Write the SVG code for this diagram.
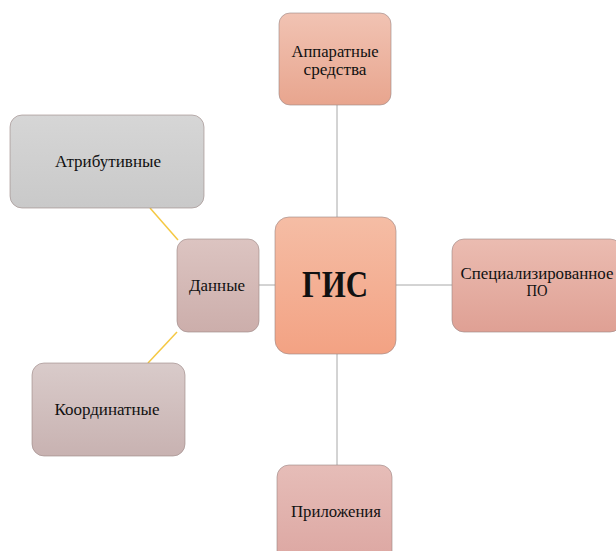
<svg xmlns="http://www.w3.org/2000/svg" width="616" height="551" viewBox="0 0 616 551">
<defs>
<linearGradient id="gApp" x1="0" y1="0" x2="0" y2="1"><stop offset="0" stop-color="#f1c3b3"/><stop offset="1" stop-color="#e8a58e"/></linearGradient>
<linearGradient id="gGis" x1="0" y1="0" x2="0" y2="1"><stop offset="0" stop-color="#f5bda5"/><stop offset="1" stop-color="#f3a283"/></linearGradient>
<linearGradient id="gSpec" x1="0" y1="0" x2="0" y2="1"><stop offset="0" stop-color="#ebbcb1"/><stop offset="1" stop-color="#dfa094"/></linearGradient>
<linearGradient id="gAttr" x1="0" y1="0" x2="0" y2="1"><stop offset="0" stop-color="#d6d6d6"/><stop offset="1" stop-color="#c9c9c9"/></linearGradient>
<linearGradient id="gData" x1="0" y1="0" x2="0" y2="1"><stop offset="0" stop-color="#dcc4c1"/><stop offset="1" stop-color="#ccaeab"/></linearGradient>
<linearGradient id="gCoord" x1="0" y1="0" x2="0" y2="1"><stop offset="0" stop-color="#d9cbca"/><stop offset="1" stop-color="#c8b2b1"/></linearGradient>
<linearGradient id="gPril" x1="0" y1="0" x2="0" y2="1"><stop offset="0" stop-color="#e6bdb8"/><stop offset="1" stop-color="#dca6a1"/></linearGradient>
</defs>
<style>
.box{stroke:#9a8584;stroke-opacity:0.6;stroke-width:1}
.t{font-family:"Liberation Serif","DejaVu Serif","Times New Roman",serif;font-size:16px;fill:#111;text-anchor:middle}
.big{font-family:"Liberation Serif","DejaVu Serif","Times New Roman",serif;font-size:38px;font-weight:bold;fill:#111;text-anchor:middle}
.gray{stroke:#a8a8a8;stroke-width:1;fill:none}
.yel{stroke:#f5c842;stroke-width:1.5;fill:none}
</style>
<g id="connectors">
<line class="gray" x1="337" y1="105" x2="337" y2="217"/>
<line class="gray" x1="337" y1="354" x2="337" y2="465"/>
<line class="gray" x1="259" y1="285" x2="275" y2="285"/>
<line class="gray" x1="396" y1="285" x2="452" y2="285"/>
<line class="yel" x1="150" y1="208" x2="178" y2="240"/>
<line class="yel" x1="177" y1="332" x2="148" y2="363"/>
</g>
<g id="node-apparat">
<rect class="box" x="279" y="13" width="112" height="92" rx="11" fill="url(#gApp)"/>
<text class="t" x="335" y="57" textLength="87" lengthAdjust="spacingAndGlyphs">Аппаратные</text>
<text class="t" x="335" y="75" textLength="63" lengthAdjust="spacingAndGlyphs">средства</text>
</g>
<g id="node-attr">
<rect class="box" x="10" y="115" width="194" height="93" rx="12" fill="url(#gAttr)"/>
<text class="t" x="108" y="167" textLength="106" lengthAdjust="spacingAndGlyphs">Атрибутивные</text>
</g>
<g id="node-data">
<rect class="box" x="177" y="239" width="82" height="93" rx="11" fill="url(#gData)"/>
<text class="t" x="217" y="291" textLength="56" lengthAdjust="spacingAndGlyphs">Данные</text>
</g>
<g id="node-gis">
<rect class="box" x="275" y="217" width="121" height="137" rx="14" fill="url(#gGis)"/>
<text class="big" x="335" y="297" textLength="66" lengthAdjust="spacingAndGlyphs">ГИС</text>
</g>
<g id="node-spec">
<rect class="box" x="452" y="239" width="170" height="93" rx="12" fill="url(#gSpec)"/>
<text class="t" x="537" y="279" textLength="153" lengthAdjust="spacingAndGlyphs">Специализированное</text>
<text class="t" x="537" y="296" textLength="21" lengthAdjust="spacingAndGlyphs">ПО</text>
</g>
<g id="node-coord">
<rect class="box" x="32" y="363" width="153" height="93" rx="12" fill="url(#gCoord)"/>
<text class="t" x="107" y="415" textLength="105" lengthAdjust="spacingAndGlyphs">Координатные</text>
</g>
<g id="node-pril">
<rect class="box" x="277" y="465" width="115" height="100" rx="12" fill="url(#gPril)"/>
<text class="t" x="336" y="517" textLength="90" lengthAdjust="spacingAndGlyphs">Приложения</text>
</g>
</svg>
